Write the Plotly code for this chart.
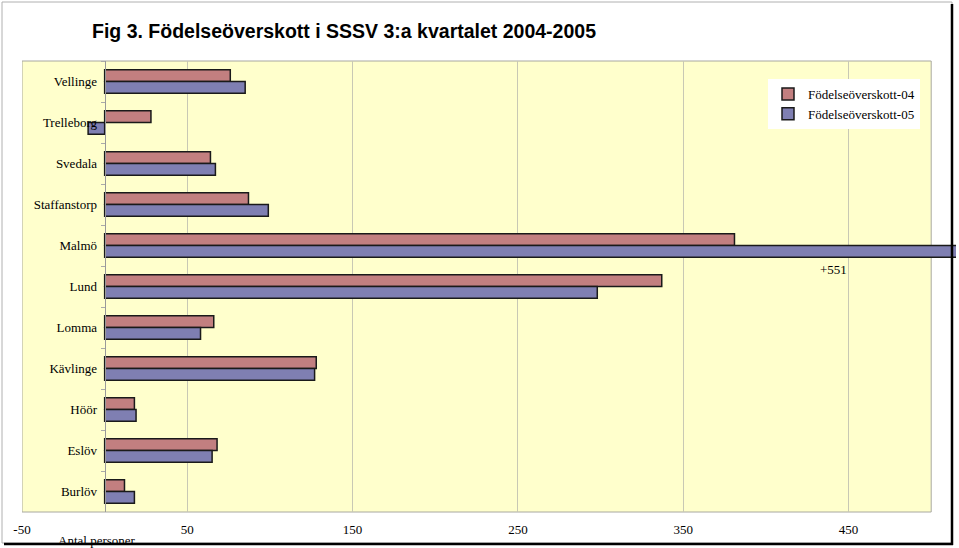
import plotly.graph_objects as go

kommuner = ["Vellinge", "Trelleborg", "Svedala", "Staffanstorp", "Malmö",
            "Lund", "Lomma", "Kävlinge", "Höör", "Eslöv", "Burlöv"]
overskott_04 = [76, 28, 64, 87, 381, 337, 66, 128, 18, 68, 12]
overskott_05 = [85, -10, 67, 99, 551, 298, 58, 127, 19, 65, 18]
serie_namn = ["Födelseöverskott-04", "Födelseöverskott-05"]
x_ticks = [-50, 50, 150, 250, 350, 450]
x_ticktext = [str(v) for v in x_ticks]

W, H = 959, 548
ML, MR, MT, MB = 22, 3, 61, 36
PW, PH = W - ML - MR, H - MT - MB
XMIN, XMAX = -50, 515


def px(xp):
    return (xp - ML) / PW


def py(yp):
    return (H - MB - yp) / PH


serif = "Liberation Serif, Times New Roman, serif"

fig = go.Figure()
fig.add_trace(go.Bar(y=kommuner, x=overskott_04, orientation="h", name=serie_namn[0],
                     marker=dict(color="#C27F80", line=dict(color="#1a1a1a", width=1.5))))
fig.add_trace(go.Bar(y=kommuner, x=overskott_05, orientation="h", name=serie_namn[1],
                     marker=dict(color="#7F7FB2", line=dict(color="#1a1a1a", width=1.5))))

malmo_idx = kommuner.index("Malmö")
fig.add_annotation(x=450, y="Malmö", xref="x", yref="y", yshift=-24,
                   text=f"+{overskott_05[malmo_idx]}", showarrow=False, xanchor="right",
                   yanchor="middle", font=dict(family=serif, size=13, color="black"))
fig.add_annotation(x=px(97), y=py(540), xref="paper", yref="paper", text="Antal personer",
                   showarrow=False, xanchor="center", yanchor="middle",
                   font=dict(family=serif, size=13, color="black"))

shapes = [
    dict(type="rect", xref="x", yref="paper", x0=-50, x1=500, y0=0, y1=1,
         fillcolor="#FFFFCC", line=dict(color="#A8A8A0", width=1), layer="below"),
    dict(type="rect", xref="paper", yref="paper", x0=px(2), x1=px(952), y0=py(543), y1=py(2),
         line=dict(color="#B0B0B0", width=1), layer="below"),
    dict(type="line", xref="paper", yref="paper", x0=px(952), x1=px(952), y0=py(545), y1=py(4),
         line=dict(color="black", width=2.5)),
    dict(type="line", xref="paper", yref="paper", x0=px(4), x1=px(953), y0=py(544), y1=py(544),
         line=dict(color="black", width=2.5)),
]

fig.update_layout(
    width=W, height=H,
    margin=dict(l=ML, r=MR, t=MT, b=MB),
    paper_bgcolor="white", plot_bgcolor="white",
    barmode="group", bargap=0.43, bargroupgap=0,
    title=dict(text="<b>Fig 3. Födelseöverskott i SSSV 3:a kvartalet 2004-2005</b>",
               x=92 / W, xanchor="left", y=1 - 31 / H, yanchor="middle",
               font=dict(family="Liberation Sans, Arial, sans-serif",
                         size=19.5, color="black")),
    xaxis=dict(range=[XMIN, XMAX], tickvals=x_ticks, ticktext=x_ticktext, showgrid=True,
               gridcolor="#C8C8B4", gridwidth=1, zeroline=False, showline=False,
               ticks="outside", ticklen=5, tickcolor="rgba(0,0,0,0)",
               tickfont=dict(family=serif, size=13, color="black")),
    yaxis=dict(autorange="reversed", anchor="free", position=50 / (XMAX - XMIN),
               showline=True, linecolor="#999999", linewidth=1, ticks="outside",
               tickson="boundaries", ticklen=4, tickcolor="#AAAAAA", showgrid=False,
               ticklabelstandoff=5,
               tickfont=dict(family=serif, size=13, color="black")),
    legend=dict(x=px(768), y=py(79), xanchor="left", yanchor="top", bgcolor="white",
                font=dict(family=serif, size=13, color="black"), traceorder="normal"),
    shapes=shapes,
    font=dict(family=serif),
)

fig.write_html("out.html", config={"displayModeBar": False},
               post_script="document.body.style.margin='0';")
